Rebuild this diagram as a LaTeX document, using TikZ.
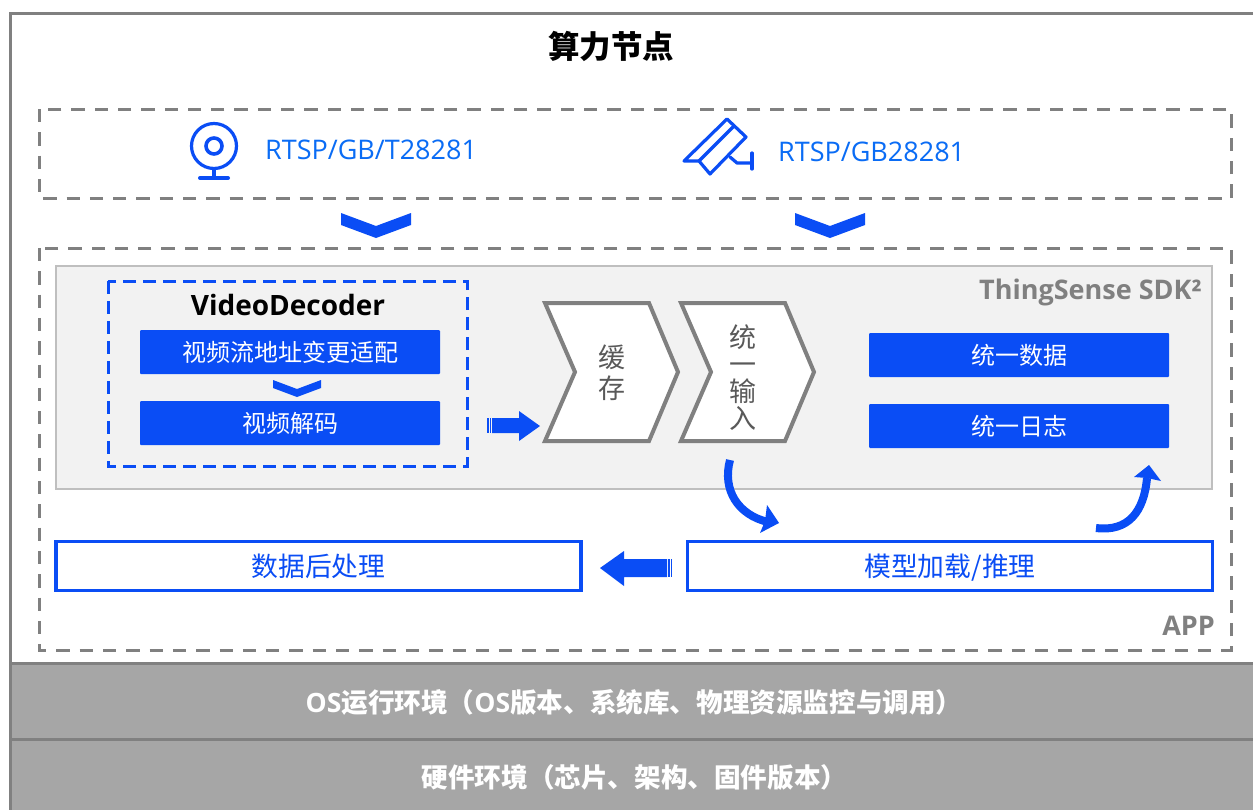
\documentclass[tikz,border=0pt]{standalone}
\usepackage{fontspec}
\setmainfont{Open Sans}
\newfontfamily\cjk{Noto Sans CJK SC}
\newfontfamily\lat{Open Sans}
\definecolor{bluefill}{HTML}{0A4DF5}
\definecolor{bluetext}{HTML}{0A6CF5}
\definecolor{midgray}{HTML}{808080}
\definecolor{lightbar}{HTML}{A6A6A6}
\definecolor{panel}{HTML}{F2F2F2}
\definecolor{panelline}{HTML}{BFBFBF}
\definecolor{inktext}{HTML}{595959}
\newcommand{\fs}[1]{\fontsize{#1pt}{#1pt}\selectfont}
\newcommand{\boxlabel}[1]{\smash{\raisebox{-10.5pt}{#1}}\rule[-13pt]{0pt}{26pt}}
\tikzset{
  graydash/.style={draw=midgray,line width=3pt,dash pattern=on 13.3pt off 10pt},
  bluedash/.style={draw=bluefill,line width=3pt,dash pattern=on 13pt off 7pt},
  solidbox/.style={fill=bluefill,draw=none,rounded corners=1pt,minimum width=300pt,minimum height=44pt,inner sep=0pt,text=white,font=\cjk\fs{24}},
  outlinebox/.style={fill=white,draw=bluefill,line width=3.5pt,inner sep=0pt,text=bluefill,font=\cjk\fs{26.8},minimum height=49pt},
  barbox/.style={fill=lightbar,draw=midgray,line width=3pt},
  bartext/.style={text=white,inner sep=0pt},
  chev/.style={fill=white,draw=midgray,line width=4pt,miter limit=10},
  chevtext/.style={text=inktext,font=\cjk\fs{27},inner sep=0pt,align=center},
  flowline/.style={draw=bluefill,line width=8pt},
  iconline/.style={draw=bluefill,line width=3.2pt,line join=round,line cap=round},
  tagtext/.style={text=midgray,font=\lat\bfseries\fs{27},inner sep=0pt},
  srctext/.style={text=bluetext,font=\lat\fs{27},inner sep=0pt,anchor=west},
}
\begin{document}
\begin{tikzpicture}[x=1pt,y=-1pt]
\useasboundingbox (0,0) rectangle (1253,809);
\clip (0,0) rectangle (1253,809);
\fill[white] (0,0) rectangle (1253,809);
% outer frame
\draw[midgray,line width=3pt,fill=white] (1270,13) -- (10,13) -- (10,820) -- (1270,820);
% bars
\draw[barbox] (10,663) rectangle (1270,739);
\draw[barbox] (10,739) rectangle (1270,820);
\node[bartext] (osbar) at (634,702) {\fs{26.6}\bfseries{\lat OS}{\cjk\bfseries 运行环境（}{\lat OS}{\cjk\bfseries 版本、系统库、物理资源监控与调用）}};
\node[bartext] (hwbar) at (634.5,777) {\fs{26.6}{\cjk\bfseries 硬件环境（芯片、架构、固件版本）}};
\node[font=\cjk\bfseries\fs{31.5},inner sep=0pt] (title) at (611,46) {算力节点};
% source area
\draw[graydash] (39,109) rectangle (1231,198);
\node[srctext] (src1) at (265,150) {RTSP/GB/T28281};
\node[srctext] (src2) at (778,152) {RTSP/GB28281};
% webcam icon
\draw[iconline] (214,146) circle (22.5pt);
\draw[iconline,line width=3.6pt] (214,146) circle (8pt);
\draw[iconline] (214,169) -- (214,178);
\draw[iconline,line width=4pt] (200,178) -- (228,178);
% cctv icon
\draw[iconline] (684,161) -- (727,119) -- (746,137) -- (710,174) -- (699,161) -- cycle;
\draw[iconline] (699,161) -- (733,127);
\draw[iconline] (730,157) -- (737,163) -- (752,163);
\draw[iconline] (752,153) -- (752,169);
% chevrons between source and app
\fill[bluefill] (341,213) -- (376,226) -- (411,213) -- (411,225) -- (376,238) -- (341,225) -- cycle;
\fill[bluefill] (795,213) -- (830,226) -- (865,213) -- (865,225) -- (830,238) -- (795,225) -- cycle;
% app area
\draw[graydash] (39,248) rectangle (1231,650);
\node[tagtext,anchor=east] (app) at (1215,626) {APP};
% SDK panel
\draw[fill=panel,draw=panelline,line width=2pt] (56,266) rectangle (1212,489);
\node[tagtext,anchor=east] (sdk) at (1202,292) {ThingSense SDK²};
% decoder
\draw[bluedash] (108,281) rectangle (467,466);
\node[font=\lat\bfseries\fs{28},inner sep=0pt] (vd) at (288,305) {VideoDecoder};
\node[solidbox] (addr) at (290,352) {视频流地址变更适配};
\node[solidbox] (dec) at (290,423) {视频解码};
\fill[bluefill] (273,380) -- (297,389) -- (321,380) -- (321,388) -- (297,397) -- (273,388) -- cycle;
% chevrons
\draw[chev] (545,303) -- (649,303) -- (678,372) -- (649,441) -- (545,441) -- (575,372) -- cycle;
\draw[chev] (681,303) -- (785,303) -- (814,372) -- (785,441) -- (681,441) -- (711,372) -- cycle;
\node[chevtext] (ch1) at (612,373) {缓\\[4pt]存};
\node[chevtext] (ch2) at (743,378) {统\\一\\输\\入};
% right boxes
\node[solidbox] (data) at (1019,355) {统一数据};
\node[solidbox] (log) at (1019,426) {统一日志};
% outlined boxes
\node[outlinebox,minimum width=525pt] (post) at (318.5,566) {\boxlabel{数据后处理}};
\node[outlinebox,minimum width=525pt] (model) at (950,566) {\boxlabel{模型加载/推理}};
% block arrows
\fill[bluefill] (487,418) rectangle (488.5,433);
\fill[bluefill] (489.5,418) rectangle (491,433);
\fill[bluefill] (492,418) -- (519,418) -- (519,411) -- (540,426) -- (519,441) -- (519,433) -- (492,433) -- cycle;
\fill[bluefill] (672,559) rectangle (670.5,577);
\fill[bluefill] (669.5,559) rectangle (668,577);
\fill[bluefill] (667,559) -- (624,559) -- (624,551) -- (600,568) -- (624,586) -- (624,577) -- (667,577) -- cycle;
% curved arrows
\coordinate (c1s) at (730,460);
\coordinate (c1e) at (768,522);
\draw[flowline] (c1s) .. controls (722,490) and (738,515) .. (c1e);
\fill[bluefill] (779,523) -- (767,505) -- (765,521) -- (760,533) -- cycle;
\coordinate (c2s) at (1096,528);
\coordinate (c2e) at (1147,478);
\draw[flowline] (c2s) .. controls (1128,532) and (1144,512) .. (c2e);
\fill[bluefill] (1149,465) -- (1134,477) -- (1147,478) -- (1161,481) -- cycle;
\end{tikzpicture}
\end{document}
